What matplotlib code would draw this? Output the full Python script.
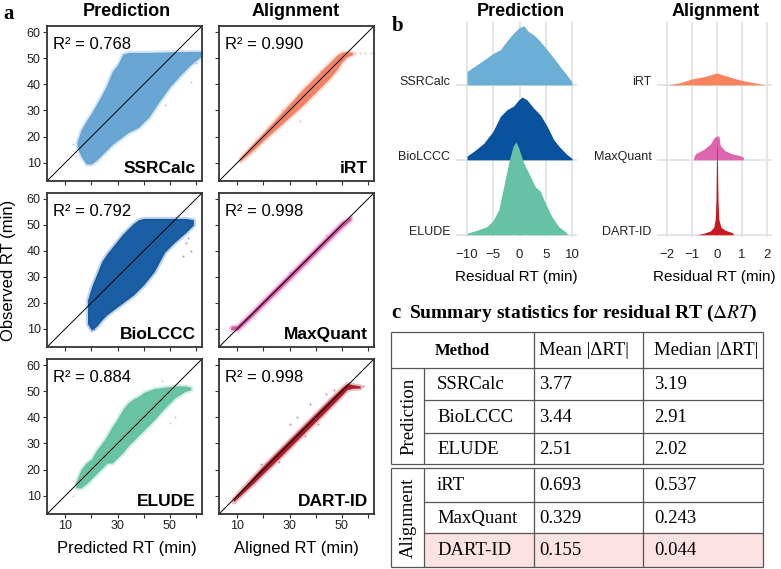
import matplotlib

matplotlib.use("Agg")
import matplotlib.pyplot as plt
from matplotlib.patches import Rectangle

W, H = 781, 569

plt.rcParams["font.family"] = ["Liberation Sans", "DejaVu Sans"]
SERIF = ["Liberation Serif", "DejaVu Serif"]
INK = "#222222"

# --- panel a: scatter clouds, traced as envelopes (observed RT low/high per x)
SSRCALC_X = [14.5, 16, 18, 20, 22, 24, 26, 28, 30, 32, 34, 38, 42, 46, 50, 54, 58, 62.3]
SSRCALC_LO = [16, 12.5, 9.5, 9.5, 11, 13, 15, 17, 18.5, 20, 21.5, 23.5, 27.5, 33.5, 39, 43.5, 47.5, 51]
SSRCALC_HI = [18, 22.5, 26, 29, 32.5, 36, 40, 45, 47.5, 51.5, 52.2, 52.2, 52.2, 52.3, 52.4, 52.5, 52.6, 52.6]

BIOLCCC_X = [18.5, 20, 22, 24, 26, 28, 30, 32, 34, 36, 38, 40, 44, 48, 52, 56, 59]
BIOLCCC_LO = [12, 9.5, 11, 13.5, 15.5, 17, 18.5, 20, 21.5, 23, 25, 27, 32, 39.5, 43.5, 47, 50]
BIOLCCC_HI = [21, 26, 31, 36, 39, 41.5, 44, 46.5, 48.5, 50.5, 52, 52.5, 52.5, 52.5, 52.5, 52.5, 52]

ELUDE_X = [14, 16, 18, 20, 22, 24, 26, 28, 30, 32, 34, 36, 38, 40, 44, 48, 52, 56, 58]
ELUDE_LO = [13, 13, 14.5, 16.5, 18.5, 20.5, 22.5, 22.5, 24.5, 26.5, 29, 31, 33, 35, 39, 43.5, 47.5, 50, 50.5]
ELUDE_HI = [15, 20, 22.5, 24, 27.5, 30, 33, 36.5, 39.5, 43, 45.5, 47, 48, 49.5, 51, 51.5, 52, 52, 51.5]

IRT_X = [11, 15, 20, 25, 30, 35, 40, 45, 48, 50, 52, 54]
IRT_LO = [10.5, 13.8, 18.5, 23, 27.5, 32, 37, 42, 45.5, 48.5, 50.5, 51.3]
IRT_HI = [11.8, 16.2, 21.5, 27, 32.5, 38, 43, 48, 51, 52.3, 52.5, 52.2]

MAXQUANT_X = [7.5, 10, 15, 20, 25, 30, 35, 40, 45, 50, 53.5]
MAXQUANT_LO = [9.7, 9.4, 14.1, 19.1, 24.0, 29.0, 34.0, 39.0, 44.0, 49.0, 52.0]
MAXQUANT_HI = [10.8, 11.4, 16.2, 21.3, 26.3, 31.3, 36.3, 41.3, 46.3, 51.3, 53.2]

DARTID_X = [8.5, 12, 16, 20, 25, 30, 35, 40, 45, 50, 52, 54, 57]
DARTID_LO = [7.6, 10.9, 14.6, 18.6, 23.4, 28.4, 33.4, 38.4, 43.4, 48.5, 50.6, 51.1, 51.2]
DARTID_HI = [9.0, 12.9, 17.2, 21.5, 26.5, 31.5, 36.5, 41.5, 46.5, 51.3, 53.0, 52.5, 52.0]

# a few stray points outside the dense clouds
SSRCALC_OUT_X = [58, 55, 44, 13, 60, 48]
SSRCALC_OUT_Y = [41, 46, 50, 17, 48, 32]
BIOLCCC_OUT_X = [57, 58, 55, 21, 56]
BIOLCCC_OUT_Y = [45, 40, 38, 10, 43]
ELUDE_OUT_X = [13, 52, 50, 47, 15]
ELUDE_OUT_Y = [10, 40, 38, 54, 16]
IRT_OUT_X = [55, 57, 59, 61, 34, 27, 42]
IRT_OUT_Y = [52, 52, 51.8, 52, 26, 30, 45]
MAXQUANT_OUT_X = [8, 9, 44, 30]
MAXQUANT_OUT_Y = [11, 10.5, 46, 32]
DARTID_OUT_X = [33, 30, 44, 41, 19, 36, 47, 58, 26, 38]
DARTID_OUT_Y = [40, 37.5, 49, 37.5, 22, 33, 50.5, 52, 23, 45]

R2 = [0.768, 0.792, 0.884, 0.990, 0.998, 0.998]

# --- panel b: residual RT densities (heights in units of ridge spacing)
SSRCALC_RES = [-10, -8.73, -6.83, -5.05, -3.65, -2.7, -1.43, -0.16, 0.79, 1.75, 2.7, 3.97, 5.24, 6.51, 7.78, 9.05, 10]
SSRCALC_DENS = [0.18, 0.24, 0.33, 0.42, 0.47, 0.56, 0.67, 0.76, 0.79, 0.71, 0.67, 0.58, 0.47, 0.36, 0.24, 0.13, 0.04]

BIOLCCC_RES = [-10, -8.41, -6.83, -5.05, -3.65, -2.38, -1.11, -0.16, 0.48, 1.43, 2.7, 3.97, 5.24, 6.51, 7.78, 9.05, 10]
BIOLCCC_DENS = [0.05, 0.13, 0.22, 0.38, 0.58, 0.67, 0.72, 0.8, 0.84, 0.8, 0.69, 0.6, 0.45, 0.27, 0.16, 0.07, 0.02]

ELUDE_RES = [-10, -8.1, -6.19, -5.05, -3.97, -3.02, -2.06, -1.24, -0.67, -0.16, 0.79, 2.06, 3.02, 3.97, 4.92, 6.19, 7.46, 9.05]
ELUDE_DENS = [0.02, 0.06, 0.11, 0.19, 0.33, 0.64, 0.96, 1.18, 1.24, 1.16, 0.96, 0.78, 0.64, 0.58, 0.42, 0.24, 0.11, 0.02]

IRT_RES = [-1.96, -1.47, -1.0, -0.53, -0.2, 0, 0.27, 0.67, 1.0, 1.47, 1.93]
IRT_DENS = [0, 0.03, 0.08, 0.11, 0.14, 0.16, 0.13, 0.09, 0.06, 0.03, 0.0]

MAXQUANT_RES = [-0.96, -0.87, -0.53, -0.27, -0.11, 0, 0.08, 0.13, 0.33, 0.6, 0.87, 1.04, 1.07]
MAXQUANT_DENS = [0, 0.08, 0.14, 0.21, 0.3, 0.32, 0.31, 0.19, 0.12, 0.08, 0.06, 0.04, 0]

DARTID_RES = [-0.8, -0.53, -0.27, -0.13, -0.07, -0.04, -0.01, 0, 0.01, 0.04, 0.07, 0.16, 0.33, 0.6, 0.67]
DARTID_DENS = [0, 0.02, 0.05, 0.1, 0.21, 0.48, 1.14, 1.28, 1.14, 0.48, 0.21, 0.1, 0.06, 0.03, 0]

# --- panel c: summary table
GROUPS = ["Prediction", "Alignment"]
METHODS = ["SSRCalc", "BioLCCC", "ELUDE", "iRT", "MaxQuant", "DART-ID"]
MEAN_ABS = ["3.77", "3.44", "2.51", "0.693", "0.329", "0.155"]
MEDIAN_ABS = ["3.19", "2.91", "2.02", "0.537", "0.243", "0.044"]

COLORS = ["#6baed6", "#08519c", "#66c2a4", "#f8845f", "#df65b0", "#cb181d"]
# scatter clouds are a touch darker than the ridge fills
SCATTER_COLORS = ["#5d9fd0", "#08519c", "#5cbf9c", "#f07a58", "#d24f9e", "#a50f1c"]


def px_axes(fig, x0, y0, x1, y1):
    # figure-pixel box (top-left origin) -> add_axes rect
    return fig.add_axes([x0 / W, 1 - y1 / H, (x1 - x0) / W, (y1 - y0) / H])


def draw_scatter(fig):
    clouds = [
        (SSRCALC_X, SSRCALC_LO, SSRCALC_HI, SSRCALC_OUT_X, SSRCALC_OUT_Y),
        (BIOLCCC_X, BIOLCCC_LO, BIOLCCC_HI, BIOLCCC_OUT_X, BIOLCCC_OUT_Y),
        (ELUDE_X, ELUDE_LO, ELUDE_HI, ELUDE_OUT_X, ELUDE_OUT_Y),
        (IRT_X, IRT_LO, IRT_HI, IRT_OUT_X, IRT_OUT_Y),
        (MAXQUANT_X, MAXQUANT_LO, MAXQUANT_HI, MAXQUANT_OUT_X, MAXQUANT_OUT_Y),
        (DARTID_X, DARTID_LO, DARTID_HI, DARTID_OUT_X, DARTID_OUT_Y),
    ]
    cols = [(47, 202), (219, 374)]
    rows = [(26, 181), (193, 347), (359, 514)]
    for i, (xs, lo, hi, ox, oy) in enumerate(clouds):
        col, row = divmod(i, 3)
        x0, x1 = cols[col]
        y0, y1 = rows[row]
        c = SCATTER_COLORS[i]
        ax = px_axes(fig, x0, y0, x1, y1)
        # soft halo first, then the dense core
        ax.fill_between(xs, lo, hi, facecolor=c, edgecolor=c, lw=3, alpha=0.25)
        ax.fill_between(xs, lo, hi, color=c, alpha=0.9, lw=0)
        ax.scatter(ox, oy, s=2, color=c, alpha=0.5, lw=0)
        ax.axline((0, 0), slope=1, color="black", lw=0.7)
        ax.set_xlim(3, 62.3)
        ax.set_ylim(3, 62.3)
        ax.set_xticks(range(10, 61, 10))
        ax.set_yticks(range(10, 61, 10))
        if row == 2:
            ax.set_xticklabels(["10", "", "30", "", "50", ""])
        else:
            ax.set_xticklabels([])
        if col == 1:
            ax.set_yticklabels([])
        ax.tick_params(length=3, width=0.8, color="#333333", labelsize=9,
                       labelcolor=INK, pad=1.5)
        for s in ax.spines.values():
            s.set_color("#333333")
            s.set_linewidth(1.3)
        ax.text(0.04, 0.88, f"R² = {R2[i]:.3f}", transform=ax.transAxes,
                fontsize=12, va="center", ha="left", color="black")
        ax.text(0.96, 0.035, METHODS[i], transform=ax.transAxes,
                fontsize=12.5, fontweight="bold", ha="right", va="bottom")

    fig.text(3 / W, 1 - 14 / H, "a", family=SERIF, fontweight="bold",
             fontsize=15, va="center")
    fig.text(127 / W, 1 - 12 / H, "Prediction", fontsize=13, fontweight="bold",
             ha="center", va="center")
    fig.text(296 / W, 1 - 12 / H, "Alignment", fontsize=13, fontweight="bold",
             ha="center", va="center")
    fig.text(9 / W, 1 - 270 / H, "Observed RT (min)", rotation=90,
             fontsize=12, ha="center", va="center")
    fig.text(127 / W, 1 - 548 / H, "Predicted RT (min)", fontsize=12,
             ha="center", va="center")
    fig.text(296 / W, 1 - 548 / H, "Aligned RT (min)", fontsize=12,
             ha="center", va="center")


def draw_ridges(fig):
    groups = [
        ((456, 577), (-12.1, 10.95), [-10, -5, 0, 5, 10],
         [(SSRCALC_RES, SSRCALC_DENS), (BIOLCCC_RES, BIOLCCC_DENS), (ELUDE_RES, ELUDE_DENS)], 0),
        ((657, 772), (-2.4, 2.2), [-2, -1, 0, 1, 2],
         [(IRT_RES, IRT_DENS), (MAXQUANT_RES, MAXQUANT_DENS), (DARTID_RES, DARTID_DENS)], 3),
    ]
    for (x0, x1), xlim, ticks, ridges, first in groups:
        ax = px_axes(fig, x0, 22, x1, 237)
        ax.set_xlim(*xlim)
        ax.set_ylim(-0.03, 2.84)
        for t in ticks:
            ax.axvline(t, color="#e3e3e3", lw=1.3, zorder=0)
        for base in (0, 1, 2):
            ax.axhline(base, color="#e3e3e3", lw=1.3, zorder=0)
        for k, (xs, dens) in enumerate(ridges):
            base = 2 - k
            ax.fill_between(xs, base, [base + d for d in dens],
                            color=COLORS[first + k], lw=0, zorder=2 + k)
        ax.set_xticks(ticks)
        ax.set_yticks([2, 1, 0])
        ax.set_yticklabels(METHODS[first:first + 3])
        for lab in ax.get_yticklabels():
            lab.set_va("baseline")
        ax.tick_params(axis="x", length=0, labelsize=9.5, labelcolor=INK, pad=9)
        ax.tick_params(axis="y", length=0, labelsize=9, labelcolor=INK, pad=4)
        for s in ax.spines.values():
            s.set_visible(False)
        ax.set_xlabel("Residual RT (min)", fontsize=11, labelpad=6)

    fig.text(392 / W, 1 - 26 / H, "b", family=SERIF, fontweight="bold",
             fontsize=15, va="center")
    fig.text(521 / W, 1 - 12 / H, "Prediction", fontsize=13, fontweight="bold",
             ha="center", va="center")
    fig.text(716 / W, 1 - 12 / H, "Alignment", fontsize=13, fontweight="bold",
             ha="center", va="center")


def draw_table(fig):
    ax = px_axes(fig, 386, 325, 781, 569)
    ax.set_xlim(386, 781)
    ax.set_ylim(569, 325)
    ax.axis("off")

    left, gcol, mcol, dcol, right = 391, 424, 534, 643, 763
    boxes = [[332, 368, 400, 433, 464], [468, 502, 533, 567]]
    line = dict(color="#555555", lw=0.9)

    # highlighted DART-ID row
    ax.add_patch(Rectangle((gcol, boxes[1][2]), right - gcol, boxes[1][3] - boxes[1][2],
                           facecolor="#fde2e3", edgecolor="none"))

    top = boxes[0]
    ax.hlines([top[0], top[1], top[-1]], left, right, **line)
    ax.hlines(top[2:-1], gcol, right, **line)
    ax.vlines([left, mcol, dcol, right], top[0], top[-1], **line)
    ax.vlines(gcol, top[1], top[-1], **line)
    bot = boxes[1]
    ax.hlines([bot[0], bot[-1]], left, right, **line)
    ax.hlines(bot[1:-1], gcol, right, **line)
    ax.vlines([left, gcol, mcol, dcol, right], bot[0], bot[-1], **line)

    txt = dict(family=SERIF, fontsize=13.5, va="center", color="black")
    head_y = (top[0] + top[1]) / 2 + 1
    ax.text((left + mcol) / 2, head_y, "Method", ha="center",
            fontweight="bold", family=SERIF, fontsize=12, va="center")
    ax.text(mcol + 5, head_y, "Mean |ΔRT|", ha="left", **txt)
    ax.text(dcol + 11, head_y, "Median |ΔRT|", ha="left", **txt)

    row_edges = [top[1:], bot]
    for g, edges in enumerate(row_edges):
        ax.text((left + gcol) / 2 + 1, (edges[0] + edges[-1]) / 2, GROUPS[g],
                rotation=90, ha="center", va="center", family=SERIF,
                fontsize=13.5)
        for r in range(3):
            i = g * 3 + r
            yc = (edges[r] + edges[r + 1]) / 2 + 1
            ax.text(gcol + 13, yc, METHODS[i], ha="left", **txt)
            ax.text(mcol + 5, yc, MEAN_ABS[i], ha="left", **txt)
            ax.text(dcol + 11, yc, MEDIAN_ABS[i], ha="left", **txt)

    fig.text(391 / W, 1 - 313 / H, "c", family=SERIF, fontweight="bold",
             fontsize=15, va="center")
    fig.text(409 / W, 1 - 313 / H, r"Summary statistics for residual RT ($\Delta RT$)",
             family=SERIF, fontweight="bold", fontsize=14, va="center",
             math_fontfamily="stix")


def main():
    fig = plt.figure(figsize=(W / 100, H / 100), dpi=100)
    draw_scatter(fig)
    draw_ridges(fig)
    draw_table(fig)
    fig.savefig("out.png", dpi=100)
    plt.close(fig)


if __name__ == "__main__":
    main()
